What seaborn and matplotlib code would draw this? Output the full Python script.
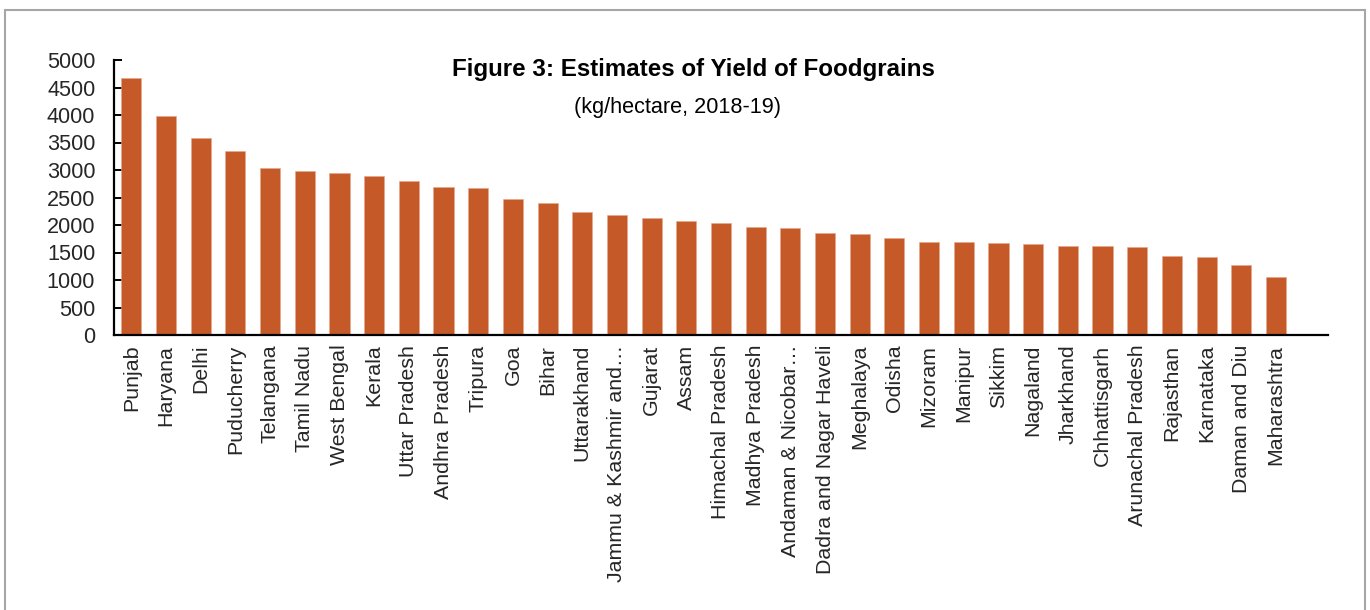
import matplotlib
matplotlib.use("Agg")
import matplotlib.pyplot as plt
import seaborn as sns
import pandas as pd
from matplotlib.patches import Rectangle

# Foodgrain yield by state / UT, 2018-19 (kg per hectare)
states = [
    "Punjab", "Haryana", "Delhi", "Puducherry", "Telangana", "Tamil Nadu",
    "West Bengal", "Kerala", "Uttar Pradesh", "Andhra Pradesh", "Tripura",
    "Goa", "Bihar", "Uttarakhand", "Jammu & Kashmir and\u2026", "Gujarat",
    "Assam", "Himachal Pradesh", "Madhya Pradesh", "Andaman & Nicobar\u2026",
    "Dadra and Nagar Haveli", "Meghalaya", "Odisha", "Mizoram", "Manipur",
    "Sikkim", "Nagaland", "Jharkhand", "Chhattisgarh", "Arunachal Pradesh",
    "Rajasthan", "Karnataka", "Daman and Diu", "Maharashtra",
]
yield_kg_ha = [
    4667, 3988, 3576, 3345, 3036, 2976,
    2939, 2891, 2800, 2695, 2673,
    2467, 2400, 2242, 2176, 2133,
    2073, 2042, 1970, 1939,
    1848, 1830, 1760, 1691, 1685,
    1667, 1655, 1618, 1612, 1594,
    1436, 1418, 1273, 1061,
]
y_ticks = [0, 500, 1000, 1500, 2000, 2500, 3000, 3500, 4000, 4500, 5000]

title = "Figure 3: Estimates of Yield of Foodgrains"
subtitle = "(kg/hectare, 2018-19)"

sns.set_theme(style="white")
plt.rcParams["font.family"] = ["Liberation Sans", "DejaVu Sans"]

df = pd.DataFrame({"state": states, "yield": yield_kg_ha})

fig = plt.figure(figsize=(13.7, 6.1), dpi=100)
fig.patch.set_facecolor("white")
ax = fig.add_axes([114 / 1370, 275 / 610, 1214 / 1370, 275 / 610])

sns.barplot(data=df, x="state", y="yield", order=states, color="#C55A28",
            saturation=1, width=0.58, ax=ax, edgecolor="#E8A888", linewidth=0.4)

ax.set_xlim(-0.5, len(states) + 0.5)
ax.set_ylim(0, 5000)
ax.set_yticks(y_ticks)
ax.set_yticklabels([str(t) for t in y_ticks])
ax.set_xlabel("")
ax.set_ylabel("")

for side in ("top", "right"):
    ax.spines[side].set_visible(False)
for side in ("left", "bottom"):
    ax.spines[side].set_color("black")
    ax.spines[side].set_linewidth(1.6)

ax.tick_params(axis="y", direction="in", length=6, width=1.4, color="black",
               labelsize=15.6, pad=13.5, left=True)
ax.tick_params(axis="x", length=0, labelsize=15.4, pad=7, rotation=90)
for lbl in ax.get_xticklabels():
    lbl.set_va("top")
    lbl.set_ha("center")

fig.text(693 / 1370, 1 - 76 / 610, title, ha="center", va="baseline",
         fontsize=17.4, fontweight="bold", color="black")
fig.text(677 / 1370, 1 - 113 / 610, subtitle, ha="center", va="baseline",
         fontsize=15.6, color="black")

# light grey frame around the chart area
fig.patches.append(Rectangle((5 / 1370, -0.05), 1360 / 1370, 1.05 - 10 / 610,
                             transform=fig.transFigure, fill=False,
                             edgecolor="#A6A6A6", linewidth=1.5))

fig.savefig("out.png", dpi=100, facecolor="white")
